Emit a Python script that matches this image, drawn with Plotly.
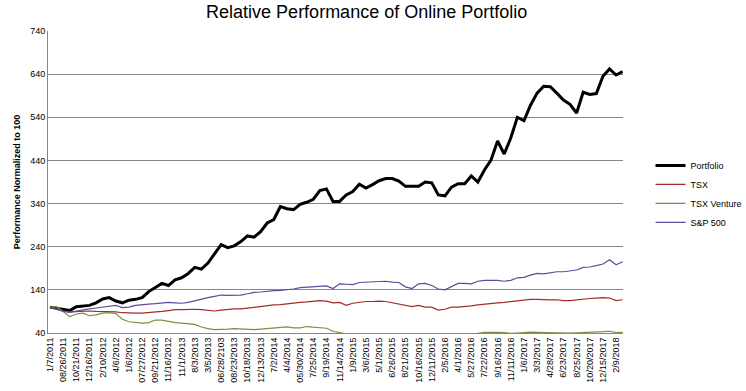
import plotly.graph_objects as go

tick_labels = ["1/7/2011","08/26/2011","10/21/2011","12/16/2011","2/10/2012","4/6/2012","1/6/2012",
               "07/27/2012","09/21/2012","11/16/2012","11/1/2013","8/3/2013","3/5/2013","06/28/2103",
               "08/23/2013","10/18/2013","12/13/2013","7/2/2014","4/4/2014","05/30/2014","7/25/2014",
               "9/19/2014","11/14/2014","1/9/2015","3/6/2015","5/1/2015","6/26/2015","8/21/2015",
               "10/16/2015","12/11/2015","2/5/2016","4/1/2016","5/27/2016","7/22/2016","9/16/2016",
               "11/11/2016","1/6/2017","3/3/2017","4/28/2017","6/23/2017","8/25/2017","10/20/2017",
               "12/15/2017","2/9/2018"]

portfolio = [100,97,95,92,101,103,104,110,119,122,114,110,116,118,122,136,146,155,150,163,
             168,178,192,188,202,224,245,238,242,
             252,265,262,275,295,303,333,328,326,338,343,350,370,374,345,345,360,368,385,376,
             384,393,398,398,392,380,380,380,
             390,388,360,358,378,386,386,404,390,418,441,485,455,492,540,532,568,596,612,611,
             596,580,570,550,598,593,595,635,652,638,646]

tsx = [100,95,91,89,90,90,91,90,90,90,89,87,86,86,86,87,89,90,92,94,94,95,95,94,92,91,93,95,96,
       96,98,100,101,104,105,106,108,109,111,112,114,115,114,110,111,104,109,111,113,113,114,113,
       110,108,105,101,104,
       100,100,93,95,100,100,101,103,105,107,109,110,111,113,114,117,118,118,117,117,117,115,115,
       117,119,120,121,122,121,115,117]

tsx_venture = [100,101,90,78,84,86,80,82,86,87,85,72,66,64,63,64,70,70,67,64,63,62,60,54,50,48,48,49,50,
               49,49,48,49,50,51,53,54,52,52,55,54,53,51,44,40.3,38,37,36,36,35,35,36,35,34,35,35,34,
               34,35,33,33,34,35,36,37,39,41.5,42,41.5,41,39,40,41.5,42,41.5,41,40.3,39,38.5,39.5,
               40.5,41,41,41.2,43,44,41,41.5]

sp500 = [100,95,90,88,91,94,96,98,100,102,104,99,100,104,106,107,108,109,111,110,109,111,115,118,
         122,125,128,127,127,
         128,131,134,135,137,138,139,140,142,145,146,147,149,149,143,154,153,152,157,158,158,159,
         160,158,157,147,143,154,
         155,150,142,140,148,155,155,154,160,162,162,162,160,162,168,169,174,178,177,180,182,182,
         184,186,192,193,196,200,210,198,205]

x = list(range(len(portfolio)))
tickvals = [2 * i for i in range(len(tick_labels))]

fig = go.Figure()
fig.add_trace(go.Scatter(x=x, y=portfolio, mode="lines", name="Portfolio",
                         line=dict(color="#000000", width=3)))
fig.add_trace(go.Scatter(x=x, y=tsx, mode="lines", name="TSX",
                         line=dict(color="#a52a2a", width=1.2)))
fig.add_trace(go.Scatter(x=x, y=tsx_venture, mode="lines", name="TSX Venture",
                         line=dict(color="#77933c", width=1.2)))
fig.add_trace(go.Scatter(x=x, y=sp500, mode="lines", name="S&P 500",
                         line=dict(color="#604a9b", width=1.2)))

font_family = "Liberation Sans, Arial, sans-serif"
fig.update_layout(
    width=746, height=391,
    margin=dict(l=48, r=123, t=31, b=58),
    paper_bgcolor="white", plot_bgcolor="white",
    font=dict(family=font_family, size=9, color="#000000"),
    title=dict(text="Relative Performance of Online Portfolio", x=0.4915, xanchor="center",
               y=0.985, yanchor="top", font=dict(size=18, family=font_family)),
    showlegend=True,
    legend=dict(xref="container", yref="container", x=0.872, xanchor="left",
                y=0.614, yanchor="top", font=dict(size=9),
                itemwidth=30, bgcolor="rgba(0,0,0,0)", tracegroupgap=0),
    xaxis=dict(range=[-0.3, 87.05], tickmode="array", tickvals=tickvals, ticktext=tick_labels,
               tickangle=-90, tickfont=dict(size=9), showgrid=False, zeroline=False,
               showline=True, linecolor="#868686", linewidth=1, ticks="", automargin=False),
    yaxis=dict(range=[40, 740], dtick=100, tick0=40, tickfont=dict(size=9),
               showgrid=True, gridcolor="#868686", gridwidth=1, zeroline=False,
               showline=True, linecolor="#868686", linewidth=1, ticks="", automargin=False,
               title=dict(text="<b>Performance Normalized to 100</b>", font=dict(size=9), standoff=8)),
)

fig.write_html("out.html", config={"displayModeBar": False},
               post_script="document.body.style.margin='0';")
